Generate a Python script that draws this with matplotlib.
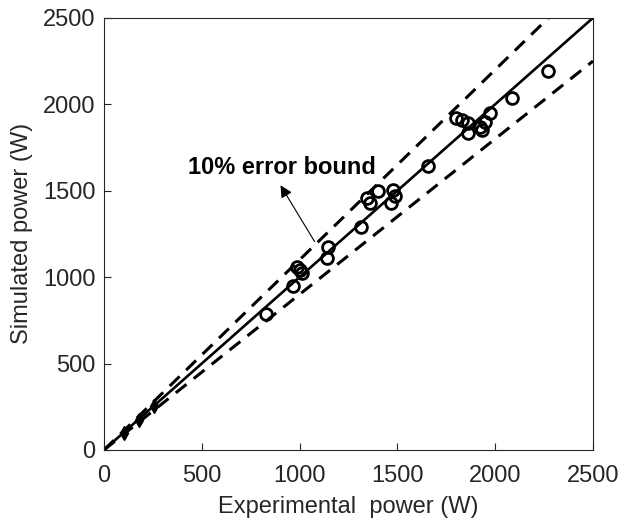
import numpy as np
import matplotlib
matplotlib.use('Agg')
import matplotlib.pyplot as plt

plt.rcParams['font.family'] = ['Liberation Sans', 'DejaVu Sans']

# experimental vs simulated power (W)
exp_power = [828, 968, 985, 1010, 1000, 1138, 1147, 1314, 1343, 1360, 1403,
             1467, 1479, 1488, 1658, 1800, 1830, 1863, 1863, 1922, 1931,
             1948, 1973, 2084, 2270]
sim_power = [787, 949, 1061, 1022, 1040, 1113, 1177, 1289, 1456, 1427, 1501,
             1427, 1505, 1470, 1643, 1919, 1910, 1890, 1833, 1871, 1850,
             1900, 1948, 2035, 2195]
# low power points
low_exp = [100, 180, 255]
low_sim = [97, 174, 255]

ticks = [0, 500, 1000, 1500, 2000, 2500]
txtc = '#262626'

fig = plt.figure(figsize=(6.19, 5.25), dpi=100)
ax = fig.add_axes([0.168, 0.143, 0.79, 0.823])

xx = np.array([0, 2500])
ax.plot(xx, xx, color='k', lw=1.9)
ax.plot(xx, 1.1 * xx, color='k', lw=2.2, ls=(0, (4.5, 3)))
ax.plot(xx, 0.9 * xx, color='k', lw=2.2, ls=(0, (4.5, 3)))

ax.plot(exp_power, sim_power, 'o', mfc='none', mec='k', ms=8.5, mew=2)
ax.plot(low_exp, low_sim, 'd', color='k', ms=7)

ax.annotate('', xy=(895, 1545), xytext=(1084, 1192),
            arrowprops=dict(arrowstyle='-|>', color='k', lw=0.8,
                            mutation_scale=18))
ax.text(429, 1632, '10% error bound', fontsize=17, fontweight='bold',
        va='center', ha='left', color='k')

ax.set_xlim(0, 2500)
ax.set_ylim(0, 2500)
ax.set_xticks(ticks)
ax.set_yticks(ticks)
ax.tick_params(direction='in', length=5, labelsize=17, colors=txtc,
               top=False, right=False, pad=6)
ax.tick_params(axis='x', pad=11)
for s in ax.spines.values():
    s.set_color(txtc)
    s.set_linewidth(0.8)
ax.set_xlabel('Experimental  power (W)', fontsize=17, color=txtc, labelpad=6)
ax.set_ylabel('Simulated power (W)', fontsize=17, color=txtc, labelpad=7)

fig.savefig('out.png', dpi=100)
